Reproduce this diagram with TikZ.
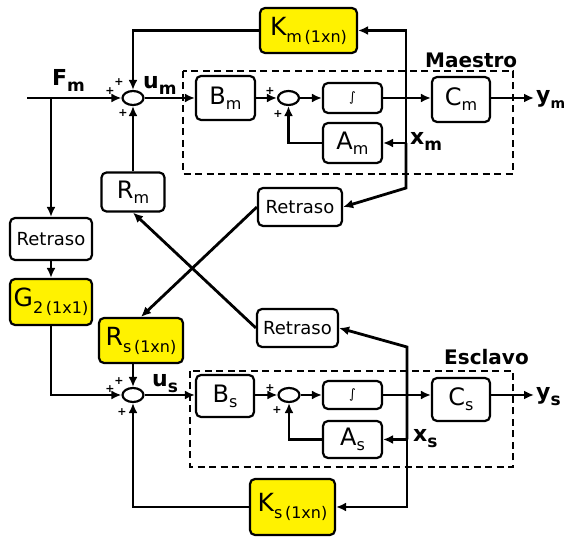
\documentclass[tikz,border=0pt]{standalone}
\usepackage{fontspec}
\setmainfont{DejaVu Sans}
\usetikzlibrary{arrows.meta,shapes.geometric,calc}

% font size helper (1pt = 1 unit of the picture)
\newcommand{\fsz}[1]{\fontsize{#1}{#1}\selectfont}
% block symbol with subscript, e.g. B_m
\newcommand{\blocksym}[2]{{\fsz{24}#1}\raisebox{-5pt}{\fsz{16}#2}}
% gain symbol with subscript and dimension, e.g. K_m (1xn)
\newcommand{\gainsym}[3]{{\fsz{25}#1}\raisebox{-7pt}{\fsz{16}#2\,(#3)}}
% bold signal name with subscript
\newcommand{\siglab}[2]{{\fsz{22}\bfseries #1}\raisebox{-6pt}{\fsz{17}\bfseries #2}}

\tikzset{
  block/.style={draw, line width=2.2pt, rounded corners=5pt, fill=white,
    inner sep=0pt, align=center},
  gain/.style={block, fill=yellow},
  sumj/.style={draw, ellipse, line width=2.2pt, minimum width=21pt,
    minimum height=14pt, inner sep=0pt, fill=white},
  wire/.style={line width=2.8pt},
  flow/.style={wire, -{Latex[length=10pt,width=9pt]}},
  frame/.style={line width=1.6pt, dash pattern=on 7pt off 4.5pt},
  plus/.style={font=\fsz{11}\bfseries, inner sep=0pt},
  retraso/.style={block, font=\fsz{18}},
}

\begin{document}
\begin{tikzpicture}[x=1pt,y=-1pt]
\useasboundingbox (0,0) rectangle (566,537);

% ---- subsystem frames ----
\draw[frame] (183,71) rectangle (513,174);
\draw[frame] (190,371) rectangle (513,467);
\node[anchor=base west, font=\fsz{20}\bfseries, inner sep=0pt] (tm) at (425,68) {Maestro};
\node[anchor=base west, font=\fsz{20}\bfseries, inner sep=0pt] (ts) at (444,365) {Esclavo};

% ---- master loop ----
\node[gain, minimum width=97pt, minimum height=45pt] (Km) at (308.5,30.5) {\gainsym{K}{m}{1xn}};
\node[sumj] (sumM) at (133,98) {};
\node[block, minimum width=59pt, minimum height=44pt] (Bm) at (225.5,98) {\blocksym{B}{m}};
\node[sumj] (sumM2) at (288.5,98) {};
\node[block, minimum width=59pt, minimum height=30pt, font=\fsz{13}] (intM) at (352.5,98) {∫};
\node[block, minimum width=58pt, minimum height=45pt] (Cm) at (461,99.5) {\blocksym{C}{m}};
\node[block, minimum width=59pt, minimum height=40pt] (Am) at (352.5,143) {\blocksym{A}{m}};
\node[block, minimum width=63pt, minimum height=39pt] (Rm) at (133,192) {\blocksym{R}{m}};

% ---- communication channel ----
\node[retraso, minimum width=82pt, minimum height=42pt] (RetL) at (51,239) {Retraso};
\node[gain, minimum width=82pt, minimum height=46pt] (G2) at (51,302) {\gainsym{G}{2}{1x1}};
\node[retraso, minimum width=84pt, minimum height=38pt] (RetU) at (300,207) {Retraso};
\node[retraso, minimum width=81pt, minimum height=38pt] (RetD) at (297.5,328) {Retraso};

% ---- slave loop ----
\node[gain, minimum width=84pt, minimum height=45pt] (Rs) at (141,340.5) {\gainsym{R}{s}{1xn}};
\node[sumj] (sumS) at (133,395) {};
\node[block, minimum width=58pt, minimum height=42pt] (Bs) at (225,396) {\blocksym{B}{s}};
\node[sumj] (sumS2) at (289,395) {};
\node[block, minimum width=59pt, minimum height=28pt, font=\fsz{13}] (intS) at (352.5,395) {∫};
\node[block, minimum width=58pt, minimum height=43pt] (Cs) at (461,399.5) {\blocksym{C}{s}};
\node[block, minimum width=59pt, minimum height=37pt] (As) at (352.5,439.5) {\blocksym{A}{s}};
\node[gain, minimum width=85pt, minimum height=56pt] (Ks) at (292.5,507) {\gainsym{K}{s}{1xn}};

% ---- free ends and branch points ----
\coordinate (fin) at (27,98);
\coordinate (fbr) at (51,98);
\coordinate (ym) at (534,98);
\coordinate (ys) at (534,395);
\coordinate (xm) at (406,143);
\coordinate (xmUp) at (406,188);
\coordinate (xs) at (407,439.5);
\coordinate (xsUp) at (407,347);

% ---- master connections ----
\draw[flow] (fin) -- (sumM.west);
\draw[flow] (fbr) -- (RetL.north);
\draw[flow] (Km.west) -| (sumM.north);
\draw[flow] (Rm.north) -- (sumM.south);
\draw[flow] (sumM.east) -- (sumM.east -| Bm.west);
\draw[flow] (Bm.east |- sumM2.west) -- (sumM2.west);
\draw[flow] (sumM2.east) -- (sumM2.east -| intM.west);
\draw[flow] (intM.east) -- (intM.east -| Cm.west);
\draw[flow] (Cm.east |- ym) -- (ym);
\draw[flow] (Am.west) -| (sumM2.south);
\draw[flow] (xm) -- (Am.east);
\draw[flow] (xm) |- (Km.east);
\draw[flow] (xm) -- (xmUp) -- (RetU.east);

% ---- cross channel ----
\draw[flow] (RetU.west) -- (Rs.north);
\draw[flow] (RetD.west) -- (Rm.south);
\draw[flow] (RetL.south) -- (G2.north);

% ---- slave connections ----
\draw[flow] (G2.south) |- (sumS.west);
\draw[flow] (Rs.south -| sumS.north) -- (sumS.north);
\draw[flow] (Ks.west) -| (sumS.south);
\draw[flow] (sumS.east) -- (sumS.east -| Bs.west);
\draw[flow] (Bs.east |- sumS2.west) -- (sumS2.west);
\draw[flow] (sumS2.east) -- (sumS2.east -| intS.west);
\draw[flow] (intS.east) -- (intS.east -| Cs.west);
\draw[flow] (Cs.east |- ys) -- (ys);
\draw[flow] (As.west) -| (sumS2.south);
\draw[flow] (xs) -- (As.east);
\draw[flow] (xs) |- (Ks.east);
\draw[flow] (xs) -- (xsUp) -- (RetD.east);

% ---- signal labels ----
\node[anchor=base west, inner sep=0pt] (lFm) at (52,86) {\siglab{F}{m}};
\node[anchor=base west, inner sep=0pt] (lum) at (143,89) {\siglab{u}{m}};
\node[anchor=base west, inner sep=0pt] (lym) at (536,103) {{\fsz{22}\bfseries y}\raisebox{-6pt}{\fsz{14}\bfseries m}};
\node[anchor=base west, inner sep=0pt] (lxm) at (410,145) {\siglab{x}{m}};
\node[anchor=base west, inner sep=0pt] (lus) at (152,387) {\siglab{u}{s}};
\node[anchor=base west, inner sep=0pt] (lys) at (536,400) {\siglab{y}{s}};
\node[anchor=base west, inner sep=0pt] (lxs) at (413,442) {\siglab{x}{s}};

% ---- summing signs ----
\node[plus] (p1) at (110,91) {+};
\node[plus] (p2) at (119,82) {+};
\node[plus] (p3) at (123,113) {+};
\node[plus] (p4) at (270,91) {+};
\node[plus] (p5) at (278,114) {+};
\node[plus] (p6) at (110,389) {+};
\node[plus] (p7) at (119,381) {+};
\node[plus] (p8) at (122,412) {+};
\node[plus] (p9) at (270,388) {+};
\node[plus] (p10) at (277,410) {+};
\end{tikzpicture}
\end{document}
